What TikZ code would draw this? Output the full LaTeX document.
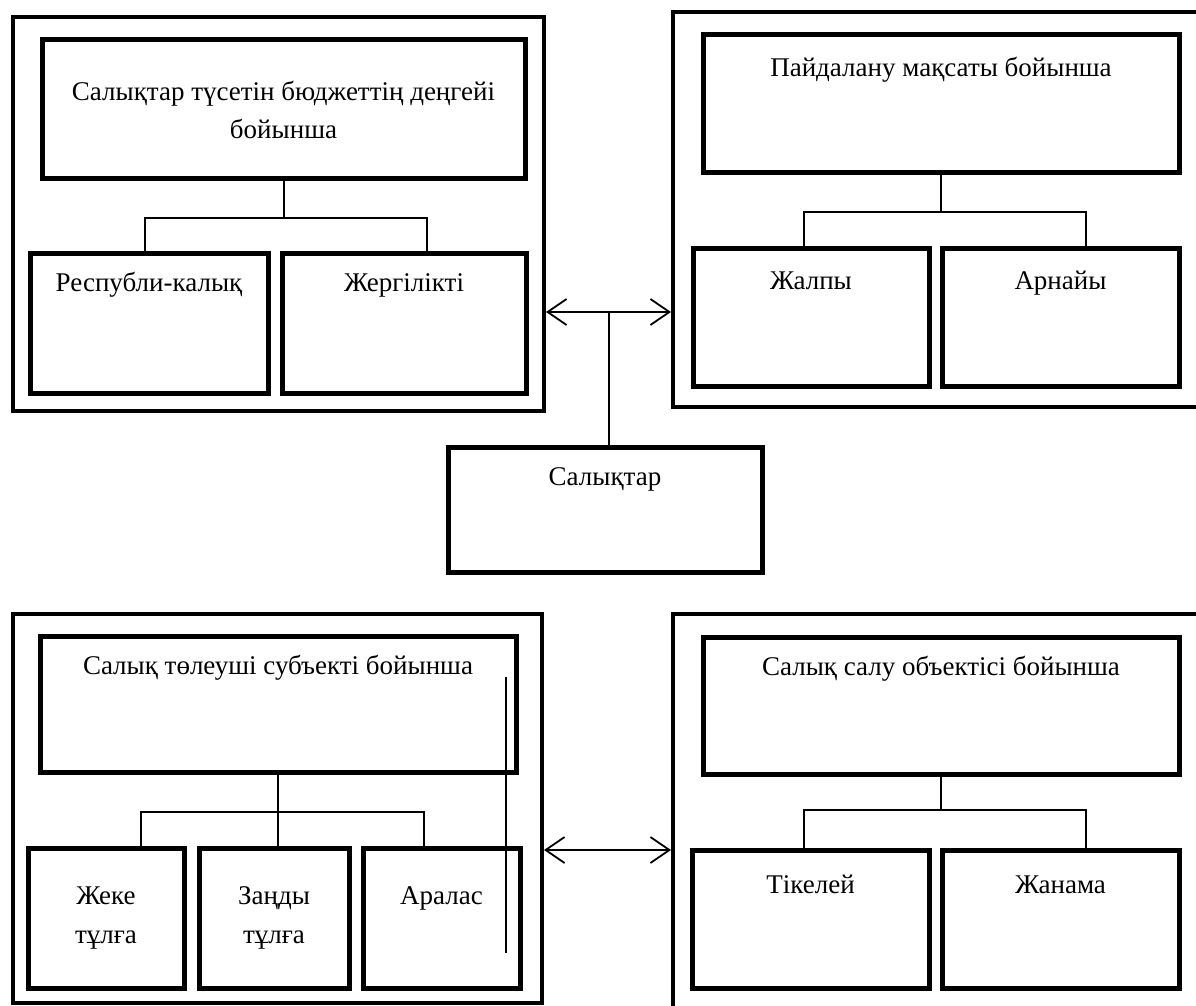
\documentclass[tikz,border=0pt]{standalone}
\usepackage{fontspec}
\setmainfont{Liberation Serif}
\usetikzlibrary{arrows.meta}

\tikzset{
  outer/.style={draw, line width=4pt, inner sep=0pt},
  box/.style={draw, line width=5pt, inner sep=0pt},
  conn/.style={line width=2pt},
  twoway/.style={line width=1.8pt, {Straight Barb[length=19pt,width=26pt]}-{Straight Barb[length=19pt,width=26pt]}},
  txt/.style={anchor=base, inner sep=0pt, font=\fontsize{27}{38}\selectfont},
}

\begin{document}
\begin{tikzpicture}[x=1pt,y=-1pt]
\useasboundingbox (0,0) rectangle (1196,1006);
\clip (0,0) rectangle (1196,1006);

% top left
\node[outer, minimum width=531pt, minimum height=394pt] (tlo) at (278.5,214) {};
\node[box, minimum width=483pt, minimum height=138pt] (tlt) at (283.5,109) {};
\node[box, minimum width=238pt, minimum height=140pt] (tla) at (149,323) {};
\node[box, minimum width=244pt, minimum height=140pt] (tlb) at (404,323) {};
\node[txt] (tlt1) at (283.5,101) {Салықтар түсетін бюджеттің деңгейі};
\node[txt] (tlt2) at (283.5,139) {бойынша};
\node[txt] (tla1) at (149,291) {Республи-калық};
\node[txt] (tlb1) at (404,291) {Жергілікті};
\coordinate (tl-l) at (145,218);
\coordinate (tl-r) at (427,218);
\draw[conn] (tlt.south) -- (tlt.south |- tl-l);
\draw[conn] (tla.north -| tl-l) -- (tl-l) -- (tl-r) -- (tlb.north -| tl-r);

% top right
\node[outer, minimum width=542pt, minimum height=395pt] (tro) at (944,209.5) {};
\node[box, minimum width=476pt, minimum height=137pt] (trt) at (941,103.5) {};
\node[box, minimum width=236pt, minimum height=138pt] (tra) at (811,317) {};
\node[box, minimum width=237pt, minimum height=138pt] (trb) at (1060.5,317) {};
\node[txt] (trt1) at (941,77) {Пайдалану мақсаты бойынша};
\node[txt] (tra1) at (811,289) {Жалпы};
\node[txt] (trb1) at (1060.5,289) {Арнайы};
\coordinate (tr-l) at (804,212);
\coordinate (tr-r) at (1086,212);
\draw[conn] (trt.south) -- (trt.south |- tr-l);
\draw[conn] (tra.north -| tr-l) -- (tr-l) -- (tr-r) -- (trb.north -| tr-r);

% middle
\node[box, minimum width=314pt, minimum height=125pt] (tax) at (605,509.5) {};
\node[txt] (tax1) at (605,485) {Салықтар};
\coordinate (mtop) at (609,312);
\coordinate (mbot) at (609,850);
\draw[twoway] (tlo.east |- mtop) -- (tro.west |- mtop);
\draw[conn] (mtop) -- (tax.north -| mtop);

% bottom left
\node[outer, minimum width=529pt, minimum height=389pt] (blo) at (277.5,808.5) {};
\node[box, minimum width=476pt, minimum height=136pt] (blt) at (278,704) {};
\node[box, minimum width=156pt, minimum height=140pt] (bla) at (106,918) {};
\node[box, minimum width=150pt, minimum height=140pt] (blb) at (274,918) {};
\node[box, minimum width=157pt, minimum height=140pt] (blc) at (441.5,918) {};
\node[txt] (blt1) at (278,674) {Салық төлеуші субъекті бойынша};
\node[txt] (bla1) at (106,904) {Жеке};
\node[txt] (bla2) at (106,943) {тұлға};
\node[txt] (blb1) at (274,904) {Заңды};
\node[txt] (blb2) at (274,943) {тұлға};
\node[txt] (blc1) at (441.5,904) {Аралас};
\coordinate (bl-l) at (141,812);
\coordinate (bl-r) at (424,812);
\draw[conn] (blt.south) -- (blt.south |- bl-l);
\draw[conn] (bla.north -| bl-l) -- (bl-l) -- (bl-r) -- (blc.north -| bl-r);
\draw[conn] (blt.south |- bl-l) -- (blb.north -| blt.south);
\coordinate (odd1) at (506,677);
\coordinate (odd2) at (506,953);
\draw[conn] (odd1) -- (odd2);

% bottom right
\node[outer, minimum width=542pt, minimum height=401pt] (bro) at (944,814.5) {};
\node[box, minimum width=476pt, minimum height=137pt] (brt) at (941,705.5) {};
\node[box, minimum width=237pt, minimum height=138pt] (bra) at (810.5,919) {};
\node[box, minimum width=237pt, minimum height=138pt] (brb) at (1060.5,919) {};
\node[txt] (brt1) at (941,675) {Салық салу объектісі бойынша};
\node[txt] (bra1) at (810.5,893) {Тікелей};
\node[txt] (brb1) at (1060.5,893) {Жанама};
\coordinate (br-l) at (804,810);
\coordinate (br-r) at (1086,810);
\draw[conn] (brt.south) -- (brt.south |- br-l);
\draw[conn] (bra.north -| br-l) -- (br-l) -- (br-r) -- (brb.north -| br-r);
\draw[twoway] (blo.east |- mbot) -- (bro.west |- mbot);
\end{tikzpicture}
\end{document}
